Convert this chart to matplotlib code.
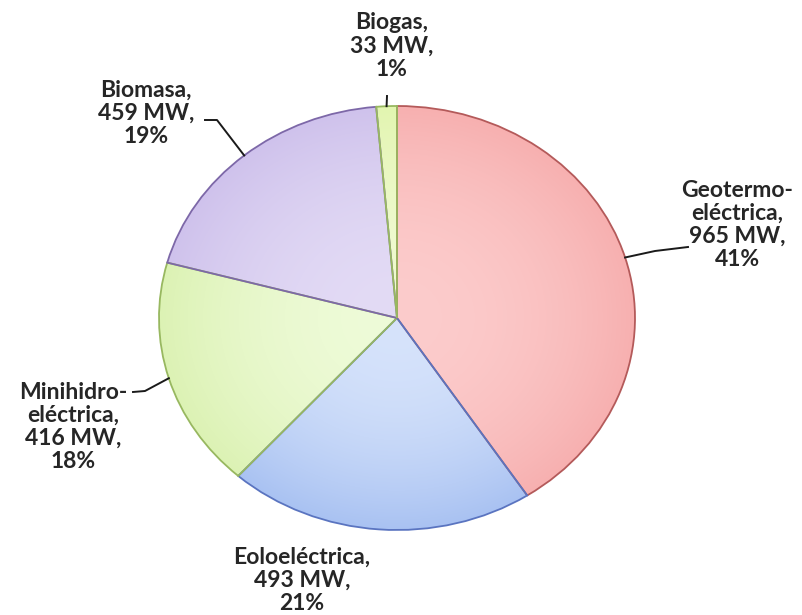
import numpy as np
import matplotlib
matplotlib.use("Agg")
import matplotlib.pyplot as plt
from matplotlib.colors import to_rgb

labels = ["Geotermo-\neléctrica", "Eoloeléctrica", "Minihidro-\neléctrica", "Biomasa", "Biogas"]
mw = [965, 493, 416, 459, 33]
pct = [41, 21, 18, 19, 1]

light = ["#fccccc", "#d6e3fb", "#eefbd8", "#e3dbf5", "#f0fad2"]
dark = ["#f7b0b0", "#a9c2f2", "#dcf2b4", "#cfc2ec", "#e2f5b0"]
edges = ["#b45a5a", "#5a74c0", "#98b860", "#7d68a8", "#98b860"]

W, H = 803, 615
CX, CY, RX, RY = 397, 318, 238, 212

fig = plt.figure(figsize=(W / 100, H / 100), dpi=100)
# axes sized so one data unit = RX px horizontally and RY px vertically
lim = 1.1
aw, ah = 2 * lim * RX, 2 * lim * RY
ax = fig.add_axes([(CX - aw / 2) / W, (H - CY - ah / 2) / H, aw / W, ah / H])

wedges, _ = ax.pie(mw, startangle=90, counterclock=False, radius=1,
                   colors=light, wedgeprops=dict(linewidth=1.3))

# radial gradient inside each wedge
n = 400
gx, gy = np.meshgrid(np.linspace(-1, 1, n), np.linspace(1, -1, n))
r = np.clip(np.sqrt(gx ** 2 + gy ** 2), 0, 1)
for w, lc, dc, ec in zip(wedges, light, dark, edges):
    w.set_edgecolor(ec)
    l, d = np.array(to_rgb(lc)), np.array(to_rgb(dc))
    img = l + (d - l) * (r ** 2)[..., None]
    im = ax.imshow(img, extent=(-1, 1, -1, 1), zorder=w.get_zorder() - 0.01,
                   interpolation="bilinear")
    im.set_clip_path(w)
    w.set_facecolor("none")
ax.set_xlim(-lim, lim)
ax.set_ylim(-lim, lim)
ax.set_aspect("auto")
ax.axis("off")


def to_data(px, py):
    return (px - CX) / RX, (CY - py) / RY


# label block centres (pixels from top-left) and leader elbows
text_pos = [(737, 225), (302, 580), (73, 427), (146, 113), (392, 46)]
leaders = [[(655, 251), (688, 247)],
           None,
           [(145, 391), (133, 392)],
           [(217, 120), (205, 120)],
           [(387, 96)]]

total = sum(mw)
start = 90.0
for i, (lab, v, p) in enumerate(zip(labels, mw, pct)):
    span = v / total * 360
    mid = np.deg2rad(start - span / 2)
    start -= span
    tx, ty = text_pos[i]
    fig.text(tx / W, 1 - ty / H, f"{lab},\n{v} MW,\n{p}%", ha="center", va="center",
             fontsize=16.5, fontweight="bold", family=["Lato", "DejaVu Sans"],
             color="#262626", linespacing=1.12)
    if leaders[i]:
        pts = [(np.cos(mid), np.sin(mid))] + [to_data(*q) for q in leaders[i]]
        xs, ys = zip(*pts)
        ax.plot(xs, ys, color="#1a1a1a", lw=1.4, clip_on=False, zorder=5)

fig.savefig("out.png", dpi=100, facecolor="white")
